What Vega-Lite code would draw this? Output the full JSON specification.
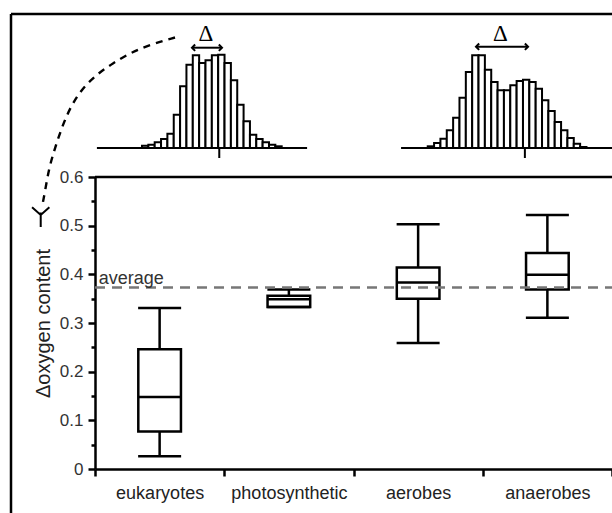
{
  "$schema": "https://vega.github.io/schema/vega-lite/v6.json",
  "width": 601,
  "height": 499,
  "autosize": {"type": "none"},
  "padding": {"left": 11, "top": 14, "right": 0, "bottom": 0},
  "background": "white",
  "config": {"font": "Liberation Sans", "view": {"stroke": null}},
  "datasets": {
    "box": [
      {"cat": "eukaryotes", "lo": 0.026, "q1": 0.077, "med": 0.148, "q3": 0.246, "hi": 0.331},
      {"cat": "photosynthetic", "lo": 0.333, "q1": 0.333, "med": 0.349, "q3": 0.356, "hi": 0.369},
      {"cat": "aerobes", "lo": 0.259, "q1": 0.350, "med": 0.383, "q3": 0.414, "hi": 0.503},
      {"cat": "anaerobes", "lo": 0.311, "q1": 0.369, "med": 0.399, "q3": 0.444, "hi": 0.522}
    ],
    "hist": [
      {"h": "L", "x0": 0, "x1": 1, "n": 2.3},
      {"h": "L", "x0": 1, "x1": 2, "n": 3.3},
      {"h": "L", "x0": 2, "x1": 3, "n": 5.7},
      {"h": "L", "x0": 3, "x1": 4, "n": 9},
      {"h": "L", "x0": 4, "x1": 5, "n": 14.3},
      {"h": "L", "x0": 5, "x1": 6, "n": 33.3},
      {"h": "L", "x0": 6, "x1": 7, "n": 61.7},
      {"h": "L", "x0": 7, "x1": 8, "n": 83.3},
      {"h": "L", "x0": 8, "x1": 9, "n": 92.7},
      {"h": "L", "x0": 9, "x1": 10, "n": 85},
      {"h": "L", "x0": 10, "x1": 11, "n": 87.7},
      {"h": "L", "x0": 11, "x1": 12, "n": 92.7},
      {"h": "L", "x0": 12, "x1": 13, "n": 93.3},
      {"h": "L", "x0": 13, "x1": 14, "n": 85},
      {"h": "L", "x0": 14, "x1": 15, "n": 67.7},
      {"h": "L", "x0": 15, "x1": 16, "n": 43.3},
      {"h": "L", "x0": 16, "x1": 17, "n": 26.7},
      {"h": "L", "x0": 17, "x1": 18, "n": 13.3},
      {"h": "L", "x0": 18, "x1": 19, "n": 9},
      {"h": "L", "x0": 19, "x1": 20, "n": 5.7},
      {"h": "L", "x0": 20, "x1": 21, "n": 3.3},
      {"h": "L", "x0": 21, "x1": 22, "n": 1.7},
      {"h": "R", "x0": 45, "x1": 46, "n": 1.7},
      {"h": "R", "x0": 46, "x1": 47, "n": 5},
      {"h": "R", "x0": 47, "x1": 48, "n": 9.3},
      {"h": "R", "x0": 48, "x1": 49, "n": 17.7},
      {"h": "R", "x0": 49, "x1": 50, "n": 30.3},
      {"h": "R", "x0": 50, "x1": 51, "n": 50.3},
      {"h": "R", "x0": 51, "x1": 52, "n": 76},
      {"h": "R", "x0": 52, "x1": 53, "n": 92.7},
      {"h": "R", "x0": 53, "x1": 54, "n": 92.7},
      {"h": "R", "x0": 54, "x1": 55, "n": 78.3},
      {"h": "R", "x0": 55, "x1": 56, "n": 66},
      {"h": "R", "x0": 56, "x1": 57, "n": 57.7},
      {"h": "R", "x0": 57, "x1": 58, "n": 57.7},
      {"h": "R", "x0": 58, "x1": 59, "n": 62.7},
      {"h": "R", "x0": 59, "x1": 60, "n": 67},
      {"h": "R", "x0": 60, "x1": 61, "n": 68.3},
      {"h": "R", "x0": 61, "x1": 62, "n": 66},
      {"h": "R", "x0": 62, "x1": 63, "n": 59.3},
      {"h": "R", "x0": 63, "x1": 64, "n": 47.7},
      {"h": "R", "x0": 64, "x1": 65, "n": 37},
      {"h": "R", "x0": 65, "x1": 66, "n": 26},
      {"h": "R", "x0": 66, "x1": 67, "n": 17.7},
      {"h": "R", "x0": 67, "x1": 68, "n": 10},
      {"h": "R", "x0": 68, "x1": 69, "n": 4.3},
      {"h": "R", "x0": 69, "x1": 70, "n": 1}
    ],
    "arc": [
      {"i": 0, "ax": 5.2, "ay": 110.5},
      {"i": 1, "ax": 1.57, "ay": 104},
      {"i": 2, "ax": -1.57, "ay": 96},
      {"i": 3, "ax": -4.57, "ay": 85},
      {"i": 4, "ax": -7.24, "ay": 73},
      {"i": 5, "ax": -9.61, "ay": 58},
      {"i": 6, "ax": -11.34, "ay": 40},
      {"i": 7, "ax": -12.6, "ay": 21},
      {"i": 8, "ax": -13.7, "ay": 0},
      {"i": 9, "ax": -14.65, "ay": -20},
      {"i": 10, "ax": -15.28, "ay": -44},
      {"i": 11, "ax": -15.75, "ay": -59}
    ],
    "delta": [
      {"x0": 7.87, "x1": 12.6, "xm": 10.08, "y": 100.3, "ty": 107, "label": "Δ"},
      {"x0": 52.6, "x1": 60.8, "xm": 56.46, "y": 101.3, "ty": 107, "label": "Δ"}
    ]
  },
  "layer": [
    {
      "data": {"name": "box"},
      "mark": {"type": "rule", "strokeWidth": 2.5, "color": "black"},
      "encoding": {
        "x": {
          "field": "cat", "type": "nominal", "sort": null, "title": null,
          "scale": {"domain": ["eukaryotes", "photosynthetic", "aerobes", "anaerobes"], "range": [84, 601], "paddingInner": 0, "paddingOuter": 0},
          "axis": {"orient": "bottom", "offset": -44, "tickBand": "extent", "tickSize": 7, "tickWidth": 2.5, "tickColor": "black", "domainColor": "black", "domainWidth": 2.5, "labelFontSize": 18, "labelColor": "#222", "labelPadding": 8, "labelAngle": 0, "grid": false, "title": null}
        },
        "y": {
          "field": "lo", "type": "quantitative",
          "scale": {"domain": [0, 0.6], "range": [455, 163], "nice": false, "zero": false},
          "axis": {
            "orient": "left", "offset": -84,
            "values": [0, 0.05, 0.1, 0.15, 0.2, 0.25, 0.3, 0.35, 0.4, 0.45, 0.5, 0.55, 0.6],
            "labelExpr": "abs(datum.value*10 - round(datum.value*10)) < 0.001 ? format(datum.value, '.1~f') : ''",
            "tickSize": {"condition": {"test": "abs(datum.value*10 - round(datum.value*10)) < 0.001", "value": 7}, "value": 4},
            "tickWidth": 2.5, "tickColor": "black", "domainColor": "black", "domainWidth": 2.5,
            "labelFontSize": 17, "labelColor": "#333", "labelPadding": 5,
            "title": "Δoxygen content", "titleFontSize": 20, "titleFontWeight": "normal", "titleColor": "#222", "titlePadding": 6,
            "grid": false
          }
        },
        "y2": {"field": "hi"}
      }
    },
    {
      "data": {"name": "box"},
      "mark": {"type": "bar", "width": {"band": 0.33}, "fill": "white", "stroke": "black", "strokeWidth": 2.5},
      "encoding": {
        "x": {"field": "cat", "type": "nominal", "sort": null, "scale": {"domain": ["eukaryotes", "photosynthetic", "aerobes", "anaerobes"], "range": [84, 601], "paddingInner": 0, "paddingOuter": 0}, "axis": null},
        "y": {"field": "q1", "type": "quantitative", "scale": {"domain": [0, 0.6], "range": [455, 163], "nice": false, "zero": false}, "axis": null},
        "y2": {"field": "q3"}
      }
    },
    {
      "data": {"name": "box"},
      "mark": {"type": "tick", "size": 43, "thickness": 2.5, "color": "black", "opacity": 1},
      "encoding": {
        "x": {"field": "cat", "type": "nominal", "sort": null, "scale": {"domain": ["eukaryotes", "photosynthetic", "aerobes", "anaerobes"], "range": [84, 601], "paddingInner": 0, "paddingOuter": 0}, "axis": null},
        "y": {"field": "med", "type": "quantitative", "scale": {"domain": [0, 0.6], "range": [455, 163], "nice": false, "zero": false}, "axis": null}
      }
    },
    {
      "data": {"name": "box"},
      "mark": {"type": "tick", "size": 43, "thickness": 2.5, "color": "black", "opacity": 1},
      "encoding": {
        "x": {"field": "cat", "type": "nominal", "sort": null, "scale": {"domain": ["eukaryotes", "photosynthetic", "aerobes", "anaerobes"], "range": [84, 601], "paddingInner": 0, "paddingOuter": 0}, "axis": null},
        "y": {"field": "lo", "type": "quantitative", "scale": {"domain": [0, 0.6], "range": [455, 163], "nice": false, "zero": false}, "axis": null}
      }
    },
    {
      "data": {"name": "box"},
      "mark": {"type": "tick", "size": 43, "thickness": 2.5, "color": "black", "opacity": 1},
      "encoding": {
        "x": {"field": "cat", "type": "nominal", "sort": null, "scale": {"domain": ["eukaryotes", "photosynthetic", "aerobes", "anaerobes"], "range": [84, 601], "paddingInner": 0, "paddingOuter": 0}, "axis": null},
        "y": {"field": "hi", "type": "quantitative", "scale": {"domain": [0, 0.6], "range": [455, 163], "nice": false, "zero": false}, "axis": null}
      }
    },
    {
      "data": {"values": [{"top": 0.6}]},
      "mark": {"type": "rule", "strokeWidth": 2.5, "color": "black"},
      "encoding": {
        "x": {"datum": "eukaryotes", "type": "nominal", "bandPosition": 0, "scale": {"domain": ["eukaryotes", "photosynthetic", "aerobes", "anaerobes"], "range": [84, 601], "paddingInner": 0, "paddingOuter": 0}, "axis": null},
        "x2": {"datum": "anaerobes", "bandPosition": 1},
        "y": {"field": "top", "type": "quantitative", "scale": {"domain": [0, 0.6], "range": [455, 163], "nice": false, "zero": false}, "axis": null}
      }
    },
    {
      "data": {"values": [{"avg": 0.373, "label": "average"}]},
      "mark": {"type": "rule", "strokeWidth": 2.5, "strokeDash": [10, 7], "color": "#777"},
      "encoding": {
        "x": {"datum": "eukaryotes", "type": "nominal", "bandPosition": 0, "scale": {"domain": ["eukaryotes", "photosynthetic", "aerobes", "anaerobes"], "range": [84, 601], "paddingInner": 0, "paddingOuter": 0}, "axis": null},
        "x2": {"datum": "anaerobes", "bandPosition": 1},
        "y": {"field": "avg", "type": "quantitative", "scale": {"domain": [0, 0.6], "range": [455, 163], "nice": false, "zero": false}, "axis": null}
      }
    },
    {
      "data": {"values": [{"avg": 0.373, "label": "average", "cat": "eukaryotes"}]},
      "mark": {"type": "text", "align": "left", "baseline": "alphabetic", "dx": -61, "dy": -3, "fontSize": 18, "color": "#333"},
      "encoding": {
        "x": {"field": "cat", "type": "nominal", "scale": {"domain": ["eukaryotes", "photosynthetic", "aerobes", "anaerobes"], "range": [84, 601], "paddingInner": 0, "paddingOuter": 0}, "axis": null},
        "y": {"field": "avg", "type": "quantitative", "scale": {"domain": [0, 0.6], "range": [455, 163], "nice": false, "zero": false}, "axis": null},
        "text": {"field": "label"}
      }
    },
    {
      "data": {"values": [{"b": 134}]},
      "mark": {"type": "rule", "strokeWidth": 2.5, "color": "black"},
      "encoding": {
        "y": {"field": "b", "type": "quantitative", "scale": {"domain": [0, 93], "range": [134, 41], "nice": false, "zero": false}, "axis": null}
      }
    },
    {
      "data": {"values": [{"b": -20.63}]},
      "mark": {"type": "rule", "strokeWidth": 2.5, "color": "black"},
      "encoding": {
        "x": {"field": "b", "type": "quantitative", "scale": {"domain": [-20.63, 74.02], "nice": false, "zero": false}, "axis": null}
      }
    },
    {
      "data": {"name": "hist"},
      "mark": {"type": "bar", "fill": "white", "stroke": "black", "strokeWidth": 2},
      "encoding": {
        "x": {"field": "x0", "type": "quantitative", "scale": {"domain": [-20.63, 74.02], "nice": false, "zero": false}, "axis": null},
        "x2": {"field": "x1"},
        "y": {"field": "n", "type": "quantitative", "scale": {"domain": [0, 93], "range": [134, 41], "nice": false, "zero": false}, "axis": null},
        "y2": {"datum": 0}
      }
    },
    {
      "data": {"values": [{"a": -7.1, "b": 26, "y": 0}, {"a": 40.8, "b": 74.02, "y": 0}]},
      "mark": {"type": "rule", "strokeWidth": 2.2, "color": "black"},
      "encoding": {
        "x": {"field": "a", "type": "quantitative", "scale": {"domain": [-20.63, 74.02], "nice": false, "zero": false}, "axis": null},
        "x2": {"field": "b"},
        "y": {"field": "y", "type": "quantitative", "scale": {"domain": [0, 93], "range": [134, 41], "nice": false, "zero": false}, "axis": null}
      }
    },
    {
      "data": {"values": [{"m": 12.17, "t0": 0, "t1": -10}, {"m": 60.3, "t0": 0, "t1": -10}]},
      "mark": {"type": "rule", "strokeWidth": 2, "color": "black"},
      "encoding": {
        "x": {"field": "m", "type": "quantitative", "scale": {"domain": [-20.63, 74.02], "nice": false, "zero": false}, "axis": null},
        "y": {"field": "t0", "type": "quantitative", "scale": {"domain": [0, 93], "range": [134, 41], "nice": false, "zero": false}, "axis": null},
        "y2": {"field": "t1"}
      }
    },
    {
      "data": {"name": "delta"},
      "mark": {"type": "rule", "strokeWidth": 2, "color": "black"},
      "encoding": {
        "x": {"field": "x0", "type": "quantitative", "scale": {"domain": [-20.63, 74.02], "nice": false, "zero": false}, "axis": null},
        "x2": {"field": "x1"},
        "y": {"field": "y", "type": "quantitative", "scale": {"domain": [0, 93], "range": [134, 41], "nice": false, "zero": false}, "axis": null}
      }
    },
    {
      "data": {"name": "delta"},
      "mark": {"type": "point", "shape": "M1,-1L0,0L1,1", "filled": false, "strokeWidth": 2, "color": "black", "size": 40, "opacity": 1},
      "encoding": {
        "x": {"field": "x0", "type": "quantitative", "scale": {"domain": [-20.63, 74.02], "nice": false, "zero": false}, "axis": null},
        "y": {"field": "y", "type": "quantitative", "scale": {"domain": [0, 93], "range": [134, 41], "nice": false, "zero": false}, "axis": null}
      }
    },
    {
      "data": {"name": "delta"},
      "mark": {"type": "point", "shape": "M-1,-1L0,0L-1,1", "filled": false, "strokeWidth": 2, "color": "black", "size": 40, "opacity": 1},
      "encoding": {
        "x": {"field": "x1", "type": "quantitative", "scale": {"domain": [-20.63, 74.02], "nice": false, "zero": false}, "axis": null},
        "y": {"field": "y", "type": "quantitative", "scale": {"domain": [0, 93], "range": [134, 41], "nice": false, "zero": false}, "axis": null}
      }
    },
    {
      "data": {"name": "delta"},
      "mark": {"type": "text", "font": "Liberation Serif", "fontSize": 23, "baseline": "alphabetic", "align": "center", "color": "black"},
      "encoding": {
        "x": {"field": "xm", "type": "quantitative", "scale": {"domain": [-20.63, 74.02], "nice": false, "zero": false}, "axis": null},
        "y": {"field": "ty", "type": "quantitative", "scale": {"domain": [0, 93], "range": [134, 41], "nice": false, "zero": false}, "axis": null},
        "text": {"field": "label"}
      }
    },
    {
      "data": {"name": "arc"},
      "mark": {"type": "line", "interpolate": "basis", "strokeDash": [7, 6], "strokeWidth": 2.4, "color": "black"},
      "encoding": {
        "x": {"field": "ax", "type": "quantitative", "scale": {"domain": [-20.63, 74.02], "nice": false, "zero": false}, "axis": null},
        "y": {"field": "ay", "type": "quantitative", "scale": {"domain": [0, 93], "range": [134, 41], "nice": false, "zero": false}, "axis": null},
        "order": {"field": "i", "type": "quantitative"}
      }
    },
    {
      "data": {"values": [{"px": -15.95, "py": -67}]},
      "mark": {"type": "point", "shape": "M-1,-0.9L0,0L1,-0.9M0,-0.3L0,1.4", "filled": false, "strokeWidth": 2, "color": "black", "size": 300, "opacity": 1},
      "encoding": {
        "x": {"field": "px", "type": "quantitative", "scale": {"domain": [-20.63, 74.02], "nice": false, "zero": false}, "axis": null},
        "y": {"field": "py", "type": "quantitative", "scale": {"domain": [0, 93], "range": [134, 41], "nice": false, "zero": false}, "axis": null}
      }
    }
  ],
  "resolve": {"scale": {"x": "independent", "y": "independent"}}
}
